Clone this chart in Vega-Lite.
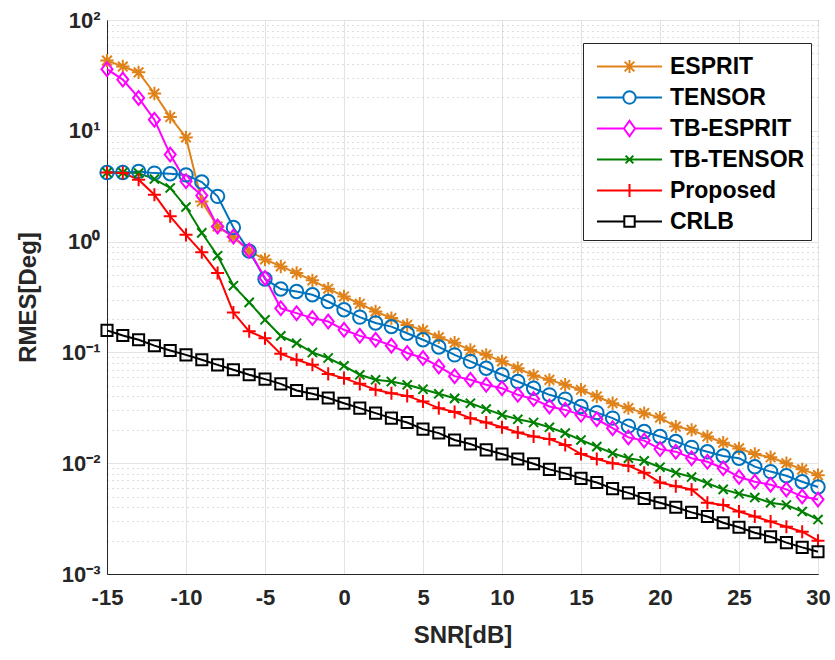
{
  "$schema": "https://vega.github.io/schema/vega-lite/v6.json",
  "width": 711,
  "height": 554,
  "autosize": {"type": "none"},
  "padding": {"left": 107, "top": 20, "right": 17, "bottom": 86},
  "background": "white",
  "config": {
    "view": {"stroke": "#262626", "strokeWidth": 1},
    "axis": {
      "labelFont": "Liberation Sans",
      "labelFontWeight": "bold",
      "labelFontSize": 22,
      "labelColor": "#262626",
      "titleFont": "Liberation Sans",
      "titleFontWeight": "bold",
      "titleFontSize": 24,
      "titleColor": "#262626",
      "domainColor": "#262626",
      "tickColor": "#262626",
      "gridColor": "#e3e3e3",
      "gridWidth": 1
    },
    "legend": {
      "labelFont": "Liberation Sans",
      "labelFontWeight": "bold",
      "labelFontSize": 23,
      "labelColor": "#000000"
    }
  },
  "data": {
    "values": [
      {"snr": -15, "ESPRIT": 43, "TENSOR": 4.2, "TB-ESPRIT": 36, "TB-TENSOR": 4.2, "Proposed": 4.2, "CRLB": 0.158},
      {"snr": -14, "ESPRIT": 38, "TENSOR": 4.2, "TB-ESPRIT": 29, "TB-TENSOR": 4.2, "Proposed": 4.17, "CRLB": 0.142},
      {"snr": -13, "ESPRIT": 33.7, "TENSOR": 4.3, "TB-ESPRIT": 19.8, "TB-TENSOR": 4.15, "Proposed": 3.62, "CRLB": 0.13},
      {"snr": -12, "ESPRIT": 21.7, "TENSOR": 4.15, "TB-ESPRIT": 12.6, "TB-TENSOR": 3.67, "Proposed": 2.65, "CRLB": 0.115},
      {"snr": -11, "ESPRIT": 13.3, "TENSOR": 4.1, "TB-ESPRIT": 6.1, "TB-TENSOR": 3.05, "Proposed": 1.69, "CRLB": 0.104},
      {"snr": -10, "ESPRIT": 8.7, "TENSOR": 4.0, "TB-ESPRIT": 3.5, "TB-TENSOR": 2.05, "Proposed": 1.15, "CRLB": 0.095},
      {"snr": -9, "ESPRIT": 2.3, "TENSOR": 3.45, "TB-ESPRIT": 2.6, "TB-TENSOR": 1.2, "Proposed": 0.8, "CRLB": 0.0857},
      {"snr": -8, "ESPRIT": 1.37, "TENSOR": 2.56, "TB-ESPRIT": 1.37, "TB-TENSOR": 0.746, "Proposed": 0.52, "CRLB": 0.0772},
      {"snr": -7, "ESPRIT": 1.1, "TENSOR": 1.34, "TB-ESPRIT": 1.11, "TB-TENSOR": 0.4, "Proposed": 0.229, "CRLB": 0.0697},
      {"snr": -6, "ESPRIT": 0.82, "TENSOR": 0.82, "TB-ESPRIT": 0.83, "TB-TENSOR": 0.283, "Proposed": 0.155, "CRLB": 0.0628},
      {"snr": -5, "ESPRIT": 0.69, "TENSOR": 0.46, "TB-ESPRIT": 0.47, "TB-TENSOR": 0.197, "Proposed": 0.134, "CRLB": 0.0574},
      {"snr": -4, "ESPRIT": 0.597, "TENSOR": 0.373, "TB-ESPRIT": 0.25, "TB-TENSOR": 0.141, "Proposed": 0.097, "CRLB": 0.052},
      {"snr": -3, "ESPRIT": 0.52, "TENSOR": 0.355, "TB-ESPRIT": 0.226, "TB-TENSOR": 0.121, "Proposed": 0.0857, "CRLB": 0.0453},
      {"snr": -2, "ESPRIT": 0.447, "TENSOR": 0.331, "TB-ESPRIT": 0.204, "TB-TENSOR": 0.0998, "Proposed": 0.0772, "CRLB": 0.0423},
      {"snr": -1, "ESPRIT": 0.376, "TENSOR": 0.288, "TB-ESPRIT": 0.19, "TB-TENSOR": 0.089, "Proposed": 0.064, "CRLB": 0.0387},
      {"snr": 0, "ESPRIT": 0.32, "TENSOR": 0.243, "TB-ESPRIT": 0.16, "TB-TENSOR": 0.0757, "Proposed": 0.0586, "CRLB": 0.0348},
      {"snr": 1, "ESPRIT": 0.275, "TENSOR": 0.208, "TB-ESPRIT": 0.141, "TB-TENSOR": 0.0628, "Proposed": 0.052, "CRLB": 0.0314},
      {"snr": 2, "ESPRIT": 0.234, "TENSOR": 0.184, "TB-ESPRIT": 0.13, "TB-TENSOR": 0.0566, "Proposed": 0.046, "CRLB": 0.0283},
      {"snr": 3, "ESPRIT": 0.204, "TENSOR": 0.171, "TB-ESPRIT": 0.115, "TB-TENSOR": 0.0546, "Proposed": 0.0428, "CRLB": 0.0255},
      {"snr": 4, "ESPRIT": 0.177, "TENSOR": 0.149, "TB-ESPRIT": 0.0987, "TB-TENSOR": 0.051, "Proposed": 0.0405, "CRLB": 0.0233},
      {"snr": 5, "ESPRIT": 0.158, "TENSOR": 0.13, "TB-ESPRIT": 0.089, "TB-TENSOR": 0.0465, "Proposed": 0.036, "CRLB": 0.0203},
      {"snr": 6, "ESPRIT": 0.137, "TENSOR": 0.112, "TB-ESPRIT": 0.0747, "TB-TENSOR": 0.0423, "Proposed": 0.0314, "CRLB": 0.0187},
      {"snr": 7, "ESPRIT": 0.122, "TENSOR": 0.095, "TB-ESPRIT": 0.061, "TB-TENSOR": 0.0385, "Proposed": 0.029, "CRLB": 0.0162},
      {"snr": 8, "ESPRIT": 0.105, "TENSOR": 0.083, "TB-ESPRIT": 0.0566, "TB-TENSOR": 0.0348, "Proposed": 0.0255, "CRLB": 0.0149},
      {"snr": 9, "ESPRIT": 0.095, "TENSOR": 0.072, "TB-ESPRIT": 0.051, "TB-TENSOR": 0.0308, "Proposed": 0.0233, "CRLB": 0.0132},
      {"snr": 10, "ESPRIT": 0.083, "TENSOR": 0.0628, "TB-ESPRIT": 0.0475, "TB-TENSOR": 0.0273, "Proposed": 0.0211, "CRLB": 0.0121},
      {"snr": 11, "ESPRIT": 0.072, "TENSOR": 0.0546, "TB-ESPRIT": 0.0414, "TB-TENSOR": 0.0249, "Proposed": 0.0189, "CRLB": 0.0109},
      {"snr": 12, "ESPRIT": 0.062, "TENSOR": 0.0475, "TB-ESPRIT": 0.0379, "TB-TENSOR": 0.0233, "Proposed": 0.0174, "CRLB": 0.0099},
      {"snr": 13, "ESPRIT": 0.0565, "TENSOR": 0.0414, "TB-ESPRIT": 0.0325, "TB-TENSOR": 0.0211, "Proposed": 0.0165, "CRLB": 0.0088},
      {"snr": 14, "ESPRIT": 0.051, "TENSOR": 0.0379, "TB-ESPRIT": 0.0303, "TB-TENSOR": 0.0187, "Proposed": 0.0146, "CRLB": 0.0081},
      {"snr": 15, "ESPRIT": 0.046, "TENSOR": 0.0325, "TB-ESPRIT": 0.0273, "TB-TENSOR": 0.0162, "Proposed": 0.0121, "CRLB": 0.0073},
      {"snr": 16, "ESPRIT": 0.04, "TENSOR": 0.0286, "TB-ESPRIT": 0.0249, "TB-TENSOR": 0.0141, "Proposed": 0.0109, "CRLB": 0.0067},
      {"snr": 17, "ESPRIT": 0.0348, "TENSOR": 0.0255, "TB-ESPRIT": 0.0207, "TB-TENSOR": 0.0123, "Proposed": 0.01, "CRLB": 0.0059},
      {"snr": 18, "ESPRIT": 0.0314, "TENSOR": 0.0216, "TB-ESPRIT": 0.0171, "TB-TENSOR": 0.0111, "Proposed": 0.0095, "CRLB": 0.0054},
      {"snr": 19, "ESPRIT": 0.0283, "TENSOR": 0.0193, "TB-ESPRIT": 0.016, "TB-TENSOR": 0.0105, "Proposed": 0.0082, "CRLB": 0.0048},
      {"snr": 20, "ESPRIT": 0.0258, "TENSOR": 0.0174, "TB-ESPRIT": 0.0134, "TB-TENSOR": 0.0092, "Proposed": 0.0067, "CRLB": 0.0044},
      {"snr": 21, "ESPRIT": 0.0214, "TENSOR": 0.0157, "TB-ESPRIT": 0.0127, "TB-TENSOR": 0.0082, "Proposed": 0.0062, "CRLB": 0.004},
      {"snr": 22, "ESPRIT": 0.02, "TENSOR": 0.0139, "TB-ESPRIT": 0.0111, "TB-TENSOR": 0.0075, "Proposed": 0.0058, "CRLB": 0.0036},
      {"snr": 23, "ESPRIT": 0.0174, "TENSOR": 0.0127, "TB-ESPRIT": 0.0103, "TB-TENSOR": 0.0066, "Proposed": 0.0044, "CRLB": 0.0033},
      {"snr": 24, "ESPRIT": 0.0153, "TENSOR": 0.0116, "TB-ESPRIT": 0.009, "TB-TENSOR": 0.0058, "Proposed": 0.0042, "CRLB": 0.0029},
      {"snr": 25, "ESPRIT": 0.0136, "TENSOR": 0.0111, "TB-ESPRIT": 0.0075, "TB-TENSOR": 0.0053, "Proposed": 0.00366, "CRLB": 0.00264},
      {"snr": 26, "ESPRIT": 0.0121, "TENSOR": 0.0093, "TB-ESPRIT": 0.0068, "TB-TENSOR": 0.0049, "Proposed": 0.0033, "CRLB": 0.00236},
      {"snr": 27, "ESPRIT": 0.0113, "TENSOR": 0.0084, "TB-ESPRIT": 0.0064, "TB-TENSOR": 0.0044, "Proposed": 0.00297, "CRLB": 0.00217},
      {"snr": 28, "ESPRIT": 0.01, "TENSOR": 0.0077, "TB-ESPRIT": 0.0058, "TB-TENSOR": 0.0042, "Proposed": 0.00267, "CRLB": 0.00192},
      {"snr": 29, "ESPRIT": 0.0088, "TENSOR": 0.0068, "TB-ESPRIT": 0.005, "TB-TENSOR": 0.00366, "Proposed": 0.00241, "CRLB": 0.00174},
      {"snr": 30, "ESPRIT": 0.0078, "TENSOR": 0.0061, "TB-ESPRIT": 0.0047, "TB-TENSOR": 0.0031, "Proposed": 0.002, "CRLB": 0.00159}
    ]
  },
  "transform": [
    {"fold": ["ESPRIT", "TENSOR", "TB-ESPRIT", "TB-TENSOR", "Proposed", "CRLB"], "as": ["series", "rmse"]}
  ],
  "encoding": {
    "x": {
      "field": "snr",
      "type": "quantitative",
      "scale": {"domain": [-15, 30], "nice": false, "zero": false},
      "axis": {
        "values": [-15, -10, -5, 0, 5, 10, 15, 20, 25, 30],
        "title": "SNR[dB]",
        "grid": true,
        "ticks": false,
        "labelPadding": 13,
        "titlePadding": 15,
        "labelFlush": false,
        "labelExpr": "'' + datum.value"
      }
    },
    "y": {
      "field": "rmse",
      "type": "quantitative",
      "scale": {"type": "log", "domain": [0.001, 100], "nice": false},
      "axis": {
        "values": [0.001, 0.002, 0.003, 0.004, 0.005, 0.006, 0.007, 0.008, 0.009, 0.01, 0.02, 0.03, 0.04, 0.05, 0.06, 0.07, 0.08, 0.09, 0.1, 0.2, 0.3, 0.4, 0.5, 0.6, 0.7, 0.8, 0.9, 1, 2, 3, 4, 5, 6, 7, 8, 9, 10, 20, 30, 40, 50, 60, 70, 80, 90, 100],
        "title": "RMES[Deg]",
        "grid": true,
        "ticks": false,
        "labelPadding": 7,
        "titlePadding": 21,
        "labelFlush": false,
        "labelOverlap": false,
        "labelExpr": "abs(log(datum.value) / LN10 - round(log(datum.value) / LN10)) > 0.01 ? '' : datum.value > 50 ? '10²' : datum.value > 5 ? '10¹' : datum.value > 0.5 ? '10⁰' : datum.value > 0.05 ? '10⁻¹' : datum.value > 0.005 ? '10⁻²' : '10⁻³'",
        "gridDash": {"condition": {"test": "abs(log(datum.value) / LN10 - round(log(datum.value) / LN10)) > 0.01", "value": [1, 4]}, "value": []},
        "gridColor": {"condition": {"test": "abs(log(datum.value) / LN10 - round(log(datum.value) / LN10)) > 0.01", "value": "#bdbdbd"}, "value": "#e3e3e3"}
      }
    },
    "color": {
      "field": "series",
      "type": "nominal",
      "scale": {
        "domain": ["ESPRIT", "TENSOR", "TB-ESPRIT", "TB-TENSOR", "Proposed", "CRLB"],
        "range": ["#e0821a", "#0072bd", "#ff00ff", "#008000", "#ff0000", "#000000"]
      }
    }
  },
  "layer": [
    {
      "transform": [{"filter": "false"}],
      "mark": {"type": "point", "filled": false, "strokeWidth": 2, "opacity": 1},
      "encoding": {
        "color": {
          "field": "series",
          "type": "nominal",
          "scale": {
            "domain": ["ESPRIT", "TENSOR", "TB-ESPRIT", "TB-TENSOR", "Proposed", "CRLB"],
            "range": ["#e0821a", "#0072bd", "#ff00ff", "#008000", "#ff0000", "#000000"]
          },
          "legend": {
            "title": null,
            "orient": "none",
            "legendX": 476,
            "legendY": 23,
            "padding": 6,
            "rowPadding": 1,
            "strokeColor": "#262626",
            "fillColor": "#ffffff",
            "symbolSize": 1056,
            "symbolStrokeWidth": 2,
            "symbolFillColor": "transparent",
            "symbolOffset": 23,
            "labelOffset": 23
          }
        },
        "shape": {
          "field": "series",
          "type": "nominal",
          "scale": {
            "domain": ["ESPRIT", "TENSOR", "TB-ESPRIT", "TB-TENSOR", "Proposed", "CRLB"],
            "range": [
              "M-2,0H2M0,-0.4V0.4M-0.3,-0.3L0.3,0.3M-0.3,0.3L0.3,-0.3",
              "M-2,0H-0.38M0.38,0H2M0.38,0A0.38,0.38 0 1,1 -0.38,0A0.38,0.38 0 1,1 0.38,0",
              "M-2,0H-0.34M0.34,0H2M-0.34,0L0,-0.48L0.34,0L0,0.48Z",
              "M-2,0H2M-0.24,-0.24L0.24,0.24M-0.24,0.24L0.24,-0.24",
              "M-2,0H2M0,-0.4V0.4",
              "M-2,0H-0.32M0.32,0H2M-0.32,-0.32H0.32V0.32H-0.32Z"
            ]
          },
          "legend": null
        }
      }
    },
    {
      "mark": {"type": "line", "strokeWidth": 2}
    },
    {
      "transform": [{"filter": {"field": "series", "equal": "ESPRIT"}}],
      "mark": {"type": "point", "filled": false, "strokeWidth": 2, "size": 180, "opacity": 1, "shape": "M-1,0H1M0,-1V1M-0.72,-0.72L0.72,0.72M-0.72,0.72L0.72,-0.72"}
    },
    {
      "transform": [{"filter": {"field": "series", "equal": "TENSOR"}}],
      "mark": {"type": "point", "filled": false, "strokeWidth": 2, "size": 180, "opacity": 1, "shape": "circle"}
    },
    {
      "transform": [{"filter": {"field": "series", "equal": "TB-ESPRIT"}}],
      "mark": {"type": "point", "filled": false, "strokeWidth": 2, "size": 190, "opacity": 1, "shape": "M-0.8,0L0,-1L0.8,0L0,1Z"}
    },
    {
      "transform": [{"filter": {"field": "series", "equal": "TB-TENSOR"}}],
      "mark": {"type": "point", "filled": false, "strokeWidth": 2, "size": 150, "opacity": 1, "shape": "M-0.75,-0.75L0.75,0.75M-0.75,0.75L0.75,-0.75"}
    },
    {
      "transform": [{"filter": {"field": "series", "equal": "Proposed"}}],
      "mark": {"type": "point", "filled": false, "strokeWidth": 2, "size": 170, "opacity": 1, "shape": "M-1,0H1M0,-1V1"}
    },
    {
      "transform": [{"filter": {"field": "series", "equal": "CRLB"}}],
      "mark": {"type": "point", "filled": false, "strokeWidth": 2, "size": 170, "opacity": 1, "shape": "M-0.85,-0.85H0.85V0.85H-0.85Z"}
    }
  ]
}
